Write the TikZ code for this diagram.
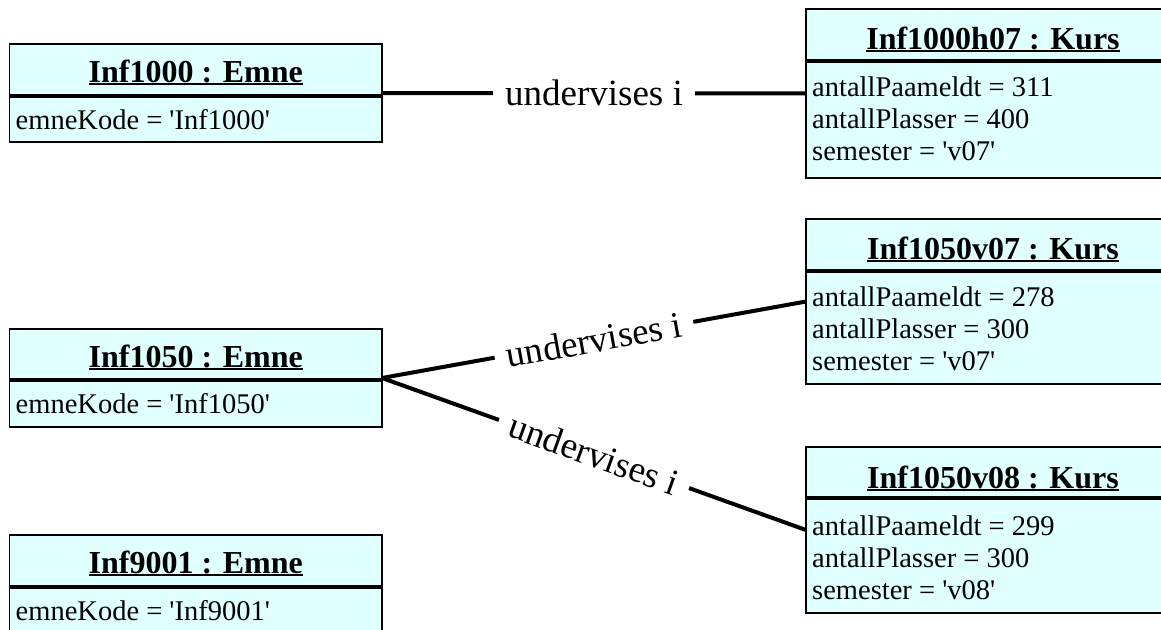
\documentclass[tikz,border=0pt]{standalone}
\usepackage{fontspec}
\setmainfont{Liberation Serif}
\definecolor{boxfill}{RGB}{224,255,255}
\newcommand\myul[1]{\setbox0\hbox{#1}\rlap{\rule[-3pt]{\wd0}{2pt}}\box0}
\newcommand\q{\textquotesingle}
\tikzset{
 objbox/.style={draw=black, line width=1.6pt, fill=boxfill, anchor=north west, inner sep=0pt, outer sep=0pt},
 divline/.style={line width=4pt},
 conn/.style={line width=4pt},
 titletext/.style={font=\fontsize{32}{38}\selectfont\bfseries, anchor=base, inner sep=0pt},
 attrtext/.style={font=\fontsize{28.5}{32.5}\selectfont, anchor=base west, inner sep=0pt},
 lbl/.style={font=\fontsize{37}{40}\selectfont, fill=white, inner xsep=12pt, inner ysep=2pt, sloped, midway}
}
\begin{document}
\begin{tikzpicture}[x=1pt,y=-1pt]
\useasboundingbox (0,0) rectangle (1161,629);
\clip (0,0) rectangle (1161,629);

% Emne boxes
\node[objbox, minimum width=372.5pt, minimum height=98pt] (e1000) at (9.5,44) {};
\draw[divline] ([yshift=-52pt]e1000.north west) -- ([yshift=-52pt]e1000.north east);
\node[titletext] (e1000t) at ([yshift=-38pt]e1000.north) {\myul{Inf1000 : Emne}};
\node[attrtext] (e1000a) at ([xshift=6pt,yshift=-85pt]e1000.north west) {emneKode = \q Inf1000\q};

\node[objbox, minimum width=372.5pt, minimum height=98pt] (e1050) at (9.5,329) {};
\draw[divline] ([yshift=-51pt]e1050.north west) -- ([yshift=-51pt]e1050.north east);
\node[titletext] (e1050t) at ([yshift=-38pt]e1050.north) {\myul{Inf1050 : Emne}};
\node[attrtext] (e1050a) at ([xshift=6pt,yshift=-84pt]e1050.north west) {emneKode = \q Inf1050\q};

\node[objbox, minimum width=372.5pt, minimum height=100pt] (e9001) at (9.5,535) {};
\draw[divline] ([yshift=-52pt]e9001.north west) -- ([yshift=-52pt]e9001.north east);
\node[titletext] (e9001t) at ([yshift=-38pt]e9001.north) {\myul{Inf9001 : Emne}};
\node[attrtext] (e9001a) at ([xshift=6pt,yshift=-85pt]e9001.north west) {emneKode = \q Inf9001\q};

% Kurs boxes
\node[objbox, minimum width=374pt, minimum height=169pt] (k1) at (806,9) {};
\draw[divline] ([yshift=-52pt]k1.north west) -- ([yshift=-52pt]k1.north east);
\node[titletext] (k1t) at ([yshift=-40pt]k1.north) {\myul{Inf1000h07 : Kurs}};
\node[attrtext] (k1a) at ([xshift=6pt,yshift=-87pt]k1.north west) {antallPaameldt = 311};
\node[attrtext] (k1b) at ([xshift=6pt,yshift=-119pt]k1.north west) {antallPlasser = 400};
\node[attrtext] (k1c) at ([xshift=6pt,yshift=-151pt]k1.north west) {semester = \q v07\q};

\node[objbox, minimum width=374pt, minimum height=165pt] (k2) at (806,219) {};
\draw[divline] ([yshift=-52pt]k2.north west) -- ([yshift=-52pt]k2.north east);
\node[titletext] (k2t) at ([yshift=-40pt]k2.north) {\myul{Inf1050v07 : Kurs}};
\node[attrtext] (k2a) at ([xshift=6pt,yshift=-87pt]k2.north west) {antallPaameldt = 278};
\node[attrtext] (k2b) at ([xshift=6pt,yshift=-119pt]k2.north west) {antallPlasser = 300};
\node[attrtext] (k2c) at ([xshift=6pt,yshift=-151pt]k2.north west) {semester = \q v07\q};

\node[objbox, minimum width=374pt, minimum height=166pt] (k3) at (806,447) {};
\draw[divline] ([yshift=-51pt]k3.north west) -- ([yshift=-51pt]k3.north east);
\node[titletext] (k3t) at ([yshift=-41pt]k3.north) {\myul{Inf1050v08 : Kurs}};
\node[attrtext] (k3a) at ([xshift=6pt,yshift=-88pt]k3.north west) {antallPaameldt = 299};
\node[attrtext] (k3b) at ([xshift=6pt,yshift=-120pt]k3.north west) {antallPlasser = 300};
\node[attrtext] (k3c) at ([xshift=6pt,yshift=-152pt]k3.north west) {semester = \q v08\q};

% connectors
\draw[conn] (e1000.east) -- node[lbl] (l1) {undervises i} (k1.west);
\draw[conn] (e1050.east) -- node[lbl] (l2) {undervises i} (k2.west);
\draw[conn] (e1050.east) -- node[lbl] (l3) {undervises i} (k3.west);
\end{tikzpicture}
\end{document}
